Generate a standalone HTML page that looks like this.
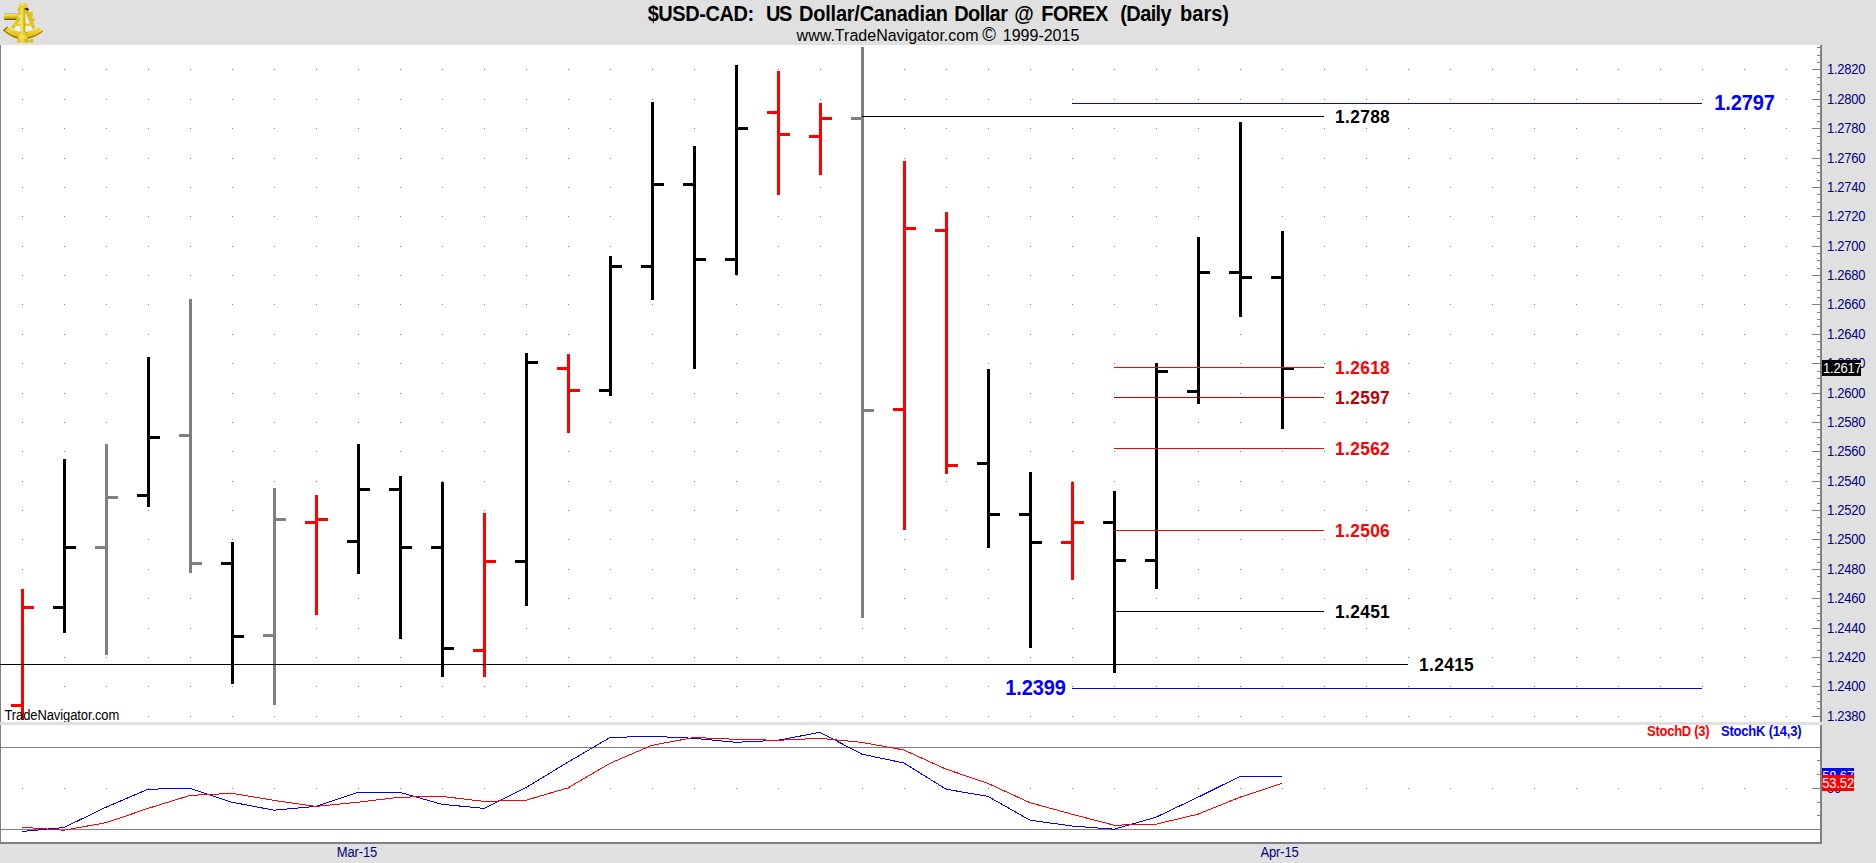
<!DOCTYPE html>
<html lang="en"><head><meta charset="utf-8"><title>$USD-CAD Daily bars</title>
<style>
html,body{margin:0;padding:0;background:#fff;overflow:hidden}
body{width:1876px;height:863px;position:relative}
svg{position:absolute;left:0;top:0;display:block}
text{font-family:"Liberation Sans",Arial,Helvetica,sans-serif;white-space:pre}
</style></head><body>
<svg width="1876" height="863" viewBox="0 0 1876 863">
<rect x="0" y="0" width="1876" height="863" fill="#FFFFFF"/>
<rect x="0" y="0" width="1876" height="45" fill="#E0E0E0"/>
<rect x="1822" y="45" width="54" height="818" fill="#E0E0E0"/>
<rect x="0" y="844" width="1876" height="19" fill="#E0E0E0"/>
<g shape-rendering="crispEdges">
<rect x="0" y="45" width="1" height="799" fill="#808080"/>
<rect x="0" y="722" width="1822" height="3" fill="#E0E0E0"/>
<rect x="1820" y="45" width="2" height="677" fill="#808080"/>
<rect x="1820" y="725" width="2" height="119" fill="#808080"/>
<rect x="0" y="842" width="1822" height="2" fill="#808080"/>
<path d="M22 69h1v1h-1zM64 69h1v1h-1zM106 69h1v1h-1zM148 69h1v1h-1zM190 69h1v1h-1zM232 69h1v1h-1zM274 69h1v1h-1zM316 69h1v1h-1zM358 69h1v1h-1zM400 69h1v1h-1zM442 69h1v1h-1zM484 69h1v1h-1zM526 69h1v1h-1zM568 69h1v1h-1zM610 69h1v1h-1zM652 69h1v1h-1zM694 69h1v1h-1zM736 69h1v1h-1zM778 69h1v1h-1zM820 69h1v1h-1zM862 69h1v1h-1zM904 69h1v1h-1zM946 69h1v1h-1zM988 69h1v1h-1zM1030 69h1v1h-1zM1072 69h1v1h-1zM1114 69h1v1h-1zM1156 69h1v1h-1zM1198 69h1v1h-1zM1240 69h1v1h-1zM1282 69h1v1h-1zM1324 69h1v1h-1zM1366 69h1v1h-1zM1408 69h1v1h-1zM1450 69h1v1h-1zM1492 69h1v1h-1zM1534 69h1v1h-1zM1576 69h1v1h-1zM1618 69h1v1h-1zM1660 69h1v1h-1zM1702 69h1v1h-1zM1744 69h1v1h-1zM1786 69h1v1h-1zM22 99h1v1h-1zM64 99h1v1h-1zM106 99h1v1h-1zM148 99h1v1h-1zM190 99h1v1h-1zM232 99h1v1h-1zM274 99h1v1h-1zM316 99h1v1h-1zM358 99h1v1h-1zM400 99h1v1h-1zM442 99h1v1h-1zM484 99h1v1h-1zM526 99h1v1h-1zM568 99h1v1h-1zM610 99h1v1h-1zM652 99h1v1h-1zM694 99h1v1h-1zM736 99h1v1h-1zM778 99h1v1h-1zM820 99h1v1h-1zM862 99h1v1h-1zM904 99h1v1h-1zM946 99h1v1h-1zM988 99h1v1h-1zM1030 99h1v1h-1zM1072 99h1v1h-1zM1114 99h1v1h-1zM1156 99h1v1h-1zM1198 99h1v1h-1zM1240 99h1v1h-1zM1282 99h1v1h-1zM1324 99h1v1h-1zM1366 99h1v1h-1zM1408 99h1v1h-1zM1450 99h1v1h-1zM1492 99h1v1h-1zM1534 99h1v1h-1zM1576 99h1v1h-1zM1618 99h1v1h-1zM1660 99h1v1h-1zM1702 99h1v1h-1zM1744 99h1v1h-1zM1786 99h1v1h-1zM22 128h1v1h-1zM64 128h1v1h-1zM106 128h1v1h-1zM148 128h1v1h-1zM190 128h1v1h-1zM232 128h1v1h-1zM274 128h1v1h-1zM316 128h1v1h-1zM358 128h1v1h-1zM400 128h1v1h-1zM442 128h1v1h-1zM484 128h1v1h-1zM526 128h1v1h-1zM568 128h1v1h-1zM610 128h1v1h-1zM652 128h1v1h-1zM694 128h1v1h-1zM736 128h1v1h-1zM778 128h1v1h-1zM820 128h1v1h-1zM862 128h1v1h-1zM904 128h1v1h-1zM946 128h1v1h-1zM988 128h1v1h-1zM1030 128h1v1h-1zM1072 128h1v1h-1zM1114 128h1v1h-1zM1156 128h1v1h-1zM1198 128h1v1h-1zM1240 128h1v1h-1zM1282 128h1v1h-1zM1324 128h1v1h-1zM1366 128h1v1h-1zM1408 128h1v1h-1zM1450 128h1v1h-1zM1492 128h1v1h-1zM1534 128h1v1h-1zM1576 128h1v1h-1zM1618 128h1v1h-1zM1660 128h1v1h-1zM1702 128h1v1h-1zM1744 128h1v1h-1zM1786 128h1v1h-1zM22 158h1v1h-1zM64 158h1v1h-1zM106 158h1v1h-1zM148 158h1v1h-1zM190 158h1v1h-1zM232 158h1v1h-1zM274 158h1v1h-1zM316 158h1v1h-1zM358 158h1v1h-1zM400 158h1v1h-1zM442 158h1v1h-1zM484 158h1v1h-1zM526 158h1v1h-1zM568 158h1v1h-1zM610 158h1v1h-1zM652 158h1v1h-1zM694 158h1v1h-1zM736 158h1v1h-1zM778 158h1v1h-1zM820 158h1v1h-1zM862 158h1v1h-1zM904 158h1v1h-1zM946 158h1v1h-1zM988 158h1v1h-1zM1030 158h1v1h-1zM1072 158h1v1h-1zM1114 158h1v1h-1zM1156 158h1v1h-1zM1198 158h1v1h-1zM1240 158h1v1h-1zM1282 158h1v1h-1zM1324 158h1v1h-1zM1366 158h1v1h-1zM1408 158h1v1h-1zM1450 158h1v1h-1zM1492 158h1v1h-1zM1534 158h1v1h-1zM1576 158h1v1h-1zM1618 158h1v1h-1zM1660 158h1v1h-1zM1702 158h1v1h-1zM1744 158h1v1h-1zM1786 158h1v1h-1zM22 187h1v1h-1zM64 187h1v1h-1zM106 187h1v1h-1zM148 187h1v1h-1zM190 187h1v1h-1zM232 187h1v1h-1zM274 187h1v1h-1zM316 187h1v1h-1zM358 187h1v1h-1zM400 187h1v1h-1zM442 187h1v1h-1zM484 187h1v1h-1zM526 187h1v1h-1zM568 187h1v1h-1zM610 187h1v1h-1zM652 187h1v1h-1zM694 187h1v1h-1zM736 187h1v1h-1zM778 187h1v1h-1zM820 187h1v1h-1zM862 187h1v1h-1zM904 187h1v1h-1zM946 187h1v1h-1zM988 187h1v1h-1zM1030 187h1v1h-1zM1072 187h1v1h-1zM1114 187h1v1h-1zM1156 187h1v1h-1zM1198 187h1v1h-1zM1240 187h1v1h-1zM1282 187h1v1h-1zM1324 187h1v1h-1zM1366 187h1v1h-1zM1408 187h1v1h-1zM1450 187h1v1h-1zM1492 187h1v1h-1zM1534 187h1v1h-1zM1576 187h1v1h-1zM1618 187h1v1h-1zM1660 187h1v1h-1zM1702 187h1v1h-1zM1744 187h1v1h-1zM1786 187h1v1h-1zM22 216h1v1h-1zM64 216h1v1h-1zM106 216h1v1h-1zM148 216h1v1h-1zM190 216h1v1h-1zM232 216h1v1h-1zM274 216h1v1h-1zM316 216h1v1h-1zM358 216h1v1h-1zM400 216h1v1h-1zM442 216h1v1h-1zM484 216h1v1h-1zM526 216h1v1h-1zM568 216h1v1h-1zM610 216h1v1h-1zM652 216h1v1h-1zM694 216h1v1h-1zM736 216h1v1h-1zM778 216h1v1h-1zM820 216h1v1h-1zM862 216h1v1h-1zM904 216h1v1h-1zM946 216h1v1h-1zM988 216h1v1h-1zM1030 216h1v1h-1zM1072 216h1v1h-1zM1114 216h1v1h-1zM1156 216h1v1h-1zM1198 216h1v1h-1zM1240 216h1v1h-1zM1282 216h1v1h-1zM1324 216h1v1h-1zM1366 216h1v1h-1zM1408 216h1v1h-1zM1450 216h1v1h-1zM1492 216h1v1h-1zM1534 216h1v1h-1zM1576 216h1v1h-1zM1618 216h1v1h-1zM1660 216h1v1h-1zM1702 216h1v1h-1zM1744 216h1v1h-1zM1786 216h1v1h-1zM22 246h1v1h-1zM64 246h1v1h-1zM106 246h1v1h-1zM148 246h1v1h-1zM190 246h1v1h-1zM232 246h1v1h-1zM274 246h1v1h-1zM316 246h1v1h-1zM358 246h1v1h-1zM400 246h1v1h-1zM442 246h1v1h-1zM484 246h1v1h-1zM526 246h1v1h-1zM568 246h1v1h-1zM610 246h1v1h-1zM652 246h1v1h-1zM694 246h1v1h-1zM736 246h1v1h-1zM778 246h1v1h-1zM820 246h1v1h-1zM862 246h1v1h-1zM904 246h1v1h-1zM946 246h1v1h-1zM988 246h1v1h-1zM1030 246h1v1h-1zM1072 246h1v1h-1zM1114 246h1v1h-1zM1156 246h1v1h-1zM1198 246h1v1h-1zM1240 246h1v1h-1zM1282 246h1v1h-1zM1324 246h1v1h-1zM1366 246h1v1h-1zM1408 246h1v1h-1zM1450 246h1v1h-1zM1492 246h1v1h-1zM1534 246h1v1h-1zM1576 246h1v1h-1zM1618 246h1v1h-1zM1660 246h1v1h-1zM1702 246h1v1h-1zM1744 246h1v1h-1zM1786 246h1v1h-1zM22 275h1v1h-1zM64 275h1v1h-1zM106 275h1v1h-1zM148 275h1v1h-1zM190 275h1v1h-1zM232 275h1v1h-1zM274 275h1v1h-1zM316 275h1v1h-1zM358 275h1v1h-1zM400 275h1v1h-1zM442 275h1v1h-1zM484 275h1v1h-1zM526 275h1v1h-1zM568 275h1v1h-1zM610 275h1v1h-1zM652 275h1v1h-1zM694 275h1v1h-1zM736 275h1v1h-1zM778 275h1v1h-1zM820 275h1v1h-1zM862 275h1v1h-1zM904 275h1v1h-1zM946 275h1v1h-1zM988 275h1v1h-1zM1030 275h1v1h-1zM1072 275h1v1h-1zM1114 275h1v1h-1zM1156 275h1v1h-1zM1198 275h1v1h-1zM1240 275h1v1h-1zM1282 275h1v1h-1zM1324 275h1v1h-1zM1366 275h1v1h-1zM1408 275h1v1h-1zM1450 275h1v1h-1zM1492 275h1v1h-1zM1534 275h1v1h-1zM1576 275h1v1h-1zM1618 275h1v1h-1zM1660 275h1v1h-1zM1702 275h1v1h-1zM1744 275h1v1h-1zM1786 275h1v1h-1zM22 304h1v1h-1zM64 304h1v1h-1zM106 304h1v1h-1zM148 304h1v1h-1zM190 304h1v1h-1zM232 304h1v1h-1zM274 304h1v1h-1zM316 304h1v1h-1zM358 304h1v1h-1zM400 304h1v1h-1zM442 304h1v1h-1zM484 304h1v1h-1zM526 304h1v1h-1zM568 304h1v1h-1zM610 304h1v1h-1zM652 304h1v1h-1zM694 304h1v1h-1zM736 304h1v1h-1zM778 304h1v1h-1zM820 304h1v1h-1zM862 304h1v1h-1zM904 304h1v1h-1zM946 304h1v1h-1zM988 304h1v1h-1zM1030 304h1v1h-1zM1072 304h1v1h-1zM1114 304h1v1h-1zM1156 304h1v1h-1zM1198 304h1v1h-1zM1240 304h1v1h-1zM1282 304h1v1h-1zM1324 304h1v1h-1zM1366 304h1v1h-1zM1408 304h1v1h-1zM1450 304h1v1h-1zM1492 304h1v1h-1zM1534 304h1v1h-1zM1576 304h1v1h-1zM1618 304h1v1h-1zM1660 304h1v1h-1zM1702 304h1v1h-1zM1744 304h1v1h-1zM1786 304h1v1h-1zM22 334h1v1h-1zM64 334h1v1h-1zM106 334h1v1h-1zM148 334h1v1h-1zM190 334h1v1h-1zM232 334h1v1h-1zM274 334h1v1h-1zM316 334h1v1h-1zM358 334h1v1h-1zM400 334h1v1h-1zM442 334h1v1h-1zM484 334h1v1h-1zM526 334h1v1h-1zM568 334h1v1h-1zM610 334h1v1h-1zM652 334h1v1h-1zM694 334h1v1h-1zM736 334h1v1h-1zM778 334h1v1h-1zM820 334h1v1h-1zM862 334h1v1h-1zM904 334h1v1h-1zM946 334h1v1h-1zM988 334h1v1h-1zM1030 334h1v1h-1zM1072 334h1v1h-1zM1114 334h1v1h-1zM1156 334h1v1h-1zM1198 334h1v1h-1zM1240 334h1v1h-1zM1282 334h1v1h-1zM1324 334h1v1h-1zM1366 334h1v1h-1zM1408 334h1v1h-1zM1450 334h1v1h-1zM1492 334h1v1h-1zM1534 334h1v1h-1zM1576 334h1v1h-1zM1618 334h1v1h-1zM1660 334h1v1h-1zM1702 334h1v1h-1zM1744 334h1v1h-1zM1786 334h1v1h-1zM22 363h1v1h-1zM64 363h1v1h-1zM106 363h1v1h-1zM148 363h1v1h-1zM190 363h1v1h-1zM232 363h1v1h-1zM274 363h1v1h-1zM316 363h1v1h-1zM358 363h1v1h-1zM400 363h1v1h-1zM442 363h1v1h-1zM484 363h1v1h-1zM526 363h1v1h-1zM568 363h1v1h-1zM610 363h1v1h-1zM652 363h1v1h-1zM694 363h1v1h-1zM736 363h1v1h-1zM778 363h1v1h-1zM820 363h1v1h-1zM862 363h1v1h-1zM904 363h1v1h-1zM946 363h1v1h-1zM988 363h1v1h-1zM1030 363h1v1h-1zM1072 363h1v1h-1zM1114 363h1v1h-1zM1156 363h1v1h-1zM1198 363h1v1h-1zM1240 363h1v1h-1zM1282 363h1v1h-1zM1324 363h1v1h-1zM1366 363h1v1h-1zM1408 363h1v1h-1zM1450 363h1v1h-1zM1492 363h1v1h-1zM1534 363h1v1h-1zM1576 363h1v1h-1zM1618 363h1v1h-1zM1660 363h1v1h-1zM1702 363h1v1h-1zM1744 363h1v1h-1zM1786 363h1v1h-1zM22 393h1v1h-1zM64 393h1v1h-1zM106 393h1v1h-1zM148 393h1v1h-1zM190 393h1v1h-1zM232 393h1v1h-1zM274 393h1v1h-1zM316 393h1v1h-1zM358 393h1v1h-1zM400 393h1v1h-1zM442 393h1v1h-1zM484 393h1v1h-1zM526 393h1v1h-1zM568 393h1v1h-1zM610 393h1v1h-1zM652 393h1v1h-1zM694 393h1v1h-1zM736 393h1v1h-1zM778 393h1v1h-1zM820 393h1v1h-1zM862 393h1v1h-1zM904 393h1v1h-1zM946 393h1v1h-1zM988 393h1v1h-1zM1030 393h1v1h-1zM1072 393h1v1h-1zM1114 393h1v1h-1zM1156 393h1v1h-1zM1198 393h1v1h-1zM1240 393h1v1h-1zM1282 393h1v1h-1zM1324 393h1v1h-1zM1366 393h1v1h-1zM1408 393h1v1h-1zM1450 393h1v1h-1zM1492 393h1v1h-1zM1534 393h1v1h-1zM1576 393h1v1h-1zM1618 393h1v1h-1zM1660 393h1v1h-1zM1702 393h1v1h-1zM1744 393h1v1h-1zM1786 393h1v1h-1zM22 422h1v1h-1zM64 422h1v1h-1zM106 422h1v1h-1zM148 422h1v1h-1zM190 422h1v1h-1zM232 422h1v1h-1zM274 422h1v1h-1zM316 422h1v1h-1zM358 422h1v1h-1zM400 422h1v1h-1zM442 422h1v1h-1zM484 422h1v1h-1zM526 422h1v1h-1zM568 422h1v1h-1zM610 422h1v1h-1zM652 422h1v1h-1zM694 422h1v1h-1zM736 422h1v1h-1zM778 422h1v1h-1zM820 422h1v1h-1zM862 422h1v1h-1zM904 422h1v1h-1zM946 422h1v1h-1zM988 422h1v1h-1zM1030 422h1v1h-1zM1072 422h1v1h-1zM1114 422h1v1h-1zM1156 422h1v1h-1zM1198 422h1v1h-1zM1240 422h1v1h-1zM1282 422h1v1h-1zM1324 422h1v1h-1zM1366 422h1v1h-1zM1408 422h1v1h-1zM1450 422h1v1h-1zM1492 422h1v1h-1zM1534 422h1v1h-1zM1576 422h1v1h-1zM1618 422h1v1h-1zM1660 422h1v1h-1zM1702 422h1v1h-1zM1744 422h1v1h-1zM1786 422h1v1h-1zM22 451h1v1h-1zM64 451h1v1h-1zM106 451h1v1h-1zM148 451h1v1h-1zM190 451h1v1h-1zM232 451h1v1h-1zM274 451h1v1h-1zM316 451h1v1h-1zM358 451h1v1h-1zM400 451h1v1h-1zM442 451h1v1h-1zM484 451h1v1h-1zM526 451h1v1h-1zM568 451h1v1h-1zM610 451h1v1h-1zM652 451h1v1h-1zM694 451h1v1h-1zM736 451h1v1h-1zM778 451h1v1h-1zM820 451h1v1h-1zM862 451h1v1h-1zM904 451h1v1h-1zM946 451h1v1h-1zM988 451h1v1h-1zM1030 451h1v1h-1zM1072 451h1v1h-1zM1114 451h1v1h-1zM1156 451h1v1h-1zM1198 451h1v1h-1zM1240 451h1v1h-1zM1282 451h1v1h-1zM1324 451h1v1h-1zM1366 451h1v1h-1zM1408 451h1v1h-1zM1450 451h1v1h-1zM1492 451h1v1h-1zM1534 451h1v1h-1zM1576 451h1v1h-1zM1618 451h1v1h-1zM1660 451h1v1h-1zM1702 451h1v1h-1zM1744 451h1v1h-1zM1786 451h1v1h-1zM22 481h1v1h-1zM64 481h1v1h-1zM106 481h1v1h-1zM148 481h1v1h-1zM190 481h1v1h-1zM232 481h1v1h-1zM274 481h1v1h-1zM316 481h1v1h-1zM358 481h1v1h-1zM400 481h1v1h-1zM442 481h1v1h-1zM484 481h1v1h-1zM526 481h1v1h-1zM568 481h1v1h-1zM610 481h1v1h-1zM652 481h1v1h-1zM694 481h1v1h-1zM736 481h1v1h-1zM778 481h1v1h-1zM820 481h1v1h-1zM862 481h1v1h-1zM904 481h1v1h-1zM946 481h1v1h-1zM988 481h1v1h-1zM1030 481h1v1h-1zM1072 481h1v1h-1zM1114 481h1v1h-1zM1156 481h1v1h-1zM1198 481h1v1h-1zM1240 481h1v1h-1zM1282 481h1v1h-1zM1324 481h1v1h-1zM1366 481h1v1h-1zM1408 481h1v1h-1zM1450 481h1v1h-1zM1492 481h1v1h-1zM1534 481h1v1h-1zM1576 481h1v1h-1zM1618 481h1v1h-1zM1660 481h1v1h-1zM1702 481h1v1h-1zM1744 481h1v1h-1zM1786 481h1v1h-1zM22 510h1v1h-1zM64 510h1v1h-1zM106 510h1v1h-1zM148 510h1v1h-1zM190 510h1v1h-1zM232 510h1v1h-1zM274 510h1v1h-1zM316 510h1v1h-1zM358 510h1v1h-1zM400 510h1v1h-1zM442 510h1v1h-1zM484 510h1v1h-1zM526 510h1v1h-1zM568 510h1v1h-1zM610 510h1v1h-1zM652 510h1v1h-1zM694 510h1v1h-1zM736 510h1v1h-1zM778 510h1v1h-1zM820 510h1v1h-1zM862 510h1v1h-1zM904 510h1v1h-1zM946 510h1v1h-1zM988 510h1v1h-1zM1030 510h1v1h-1zM1072 510h1v1h-1zM1114 510h1v1h-1zM1156 510h1v1h-1zM1198 510h1v1h-1zM1240 510h1v1h-1zM1282 510h1v1h-1zM1324 510h1v1h-1zM1366 510h1v1h-1zM1408 510h1v1h-1zM1450 510h1v1h-1zM1492 510h1v1h-1zM1534 510h1v1h-1zM1576 510h1v1h-1zM1618 510h1v1h-1zM1660 510h1v1h-1zM1702 510h1v1h-1zM1744 510h1v1h-1zM1786 510h1v1h-1zM22 539h1v1h-1zM64 539h1v1h-1zM106 539h1v1h-1zM148 539h1v1h-1zM190 539h1v1h-1zM232 539h1v1h-1zM274 539h1v1h-1zM316 539h1v1h-1zM358 539h1v1h-1zM400 539h1v1h-1zM442 539h1v1h-1zM484 539h1v1h-1zM526 539h1v1h-1zM568 539h1v1h-1zM610 539h1v1h-1zM652 539h1v1h-1zM694 539h1v1h-1zM736 539h1v1h-1zM778 539h1v1h-1zM820 539h1v1h-1zM862 539h1v1h-1zM904 539h1v1h-1zM946 539h1v1h-1zM988 539h1v1h-1zM1030 539h1v1h-1zM1072 539h1v1h-1zM1114 539h1v1h-1zM1156 539h1v1h-1zM1198 539h1v1h-1zM1240 539h1v1h-1zM1282 539h1v1h-1zM1324 539h1v1h-1zM1366 539h1v1h-1zM1408 539h1v1h-1zM1450 539h1v1h-1zM1492 539h1v1h-1zM1534 539h1v1h-1zM1576 539h1v1h-1zM1618 539h1v1h-1zM1660 539h1v1h-1zM1702 539h1v1h-1zM1744 539h1v1h-1zM1786 539h1v1h-1zM22 569h1v1h-1zM64 569h1v1h-1zM106 569h1v1h-1zM148 569h1v1h-1zM190 569h1v1h-1zM232 569h1v1h-1zM274 569h1v1h-1zM316 569h1v1h-1zM358 569h1v1h-1zM400 569h1v1h-1zM442 569h1v1h-1zM484 569h1v1h-1zM526 569h1v1h-1zM568 569h1v1h-1zM610 569h1v1h-1zM652 569h1v1h-1zM694 569h1v1h-1zM736 569h1v1h-1zM778 569h1v1h-1zM820 569h1v1h-1zM862 569h1v1h-1zM904 569h1v1h-1zM946 569h1v1h-1zM988 569h1v1h-1zM1030 569h1v1h-1zM1072 569h1v1h-1zM1114 569h1v1h-1zM1156 569h1v1h-1zM1198 569h1v1h-1zM1240 569h1v1h-1zM1282 569h1v1h-1zM1324 569h1v1h-1zM1366 569h1v1h-1zM1408 569h1v1h-1zM1450 569h1v1h-1zM1492 569h1v1h-1zM1534 569h1v1h-1zM1576 569h1v1h-1zM1618 569h1v1h-1zM1660 569h1v1h-1zM1702 569h1v1h-1zM1744 569h1v1h-1zM1786 569h1v1h-1zM22 598h1v1h-1zM64 598h1v1h-1zM106 598h1v1h-1zM148 598h1v1h-1zM190 598h1v1h-1zM232 598h1v1h-1zM274 598h1v1h-1zM316 598h1v1h-1zM358 598h1v1h-1zM400 598h1v1h-1zM442 598h1v1h-1zM484 598h1v1h-1zM526 598h1v1h-1zM568 598h1v1h-1zM610 598h1v1h-1zM652 598h1v1h-1zM694 598h1v1h-1zM736 598h1v1h-1zM778 598h1v1h-1zM820 598h1v1h-1zM862 598h1v1h-1zM904 598h1v1h-1zM946 598h1v1h-1zM988 598h1v1h-1zM1030 598h1v1h-1zM1072 598h1v1h-1zM1114 598h1v1h-1zM1156 598h1v1h-1zM1198 598h1v1h-1zM1240 598h1v1h-1zM1282 598h1v1h-1zM1324 598h1v1h-1zM1366 598h1v1h-1zM1408 598h1v1h-1zM1450 598h1v1h-1zM1492 598h1v1h-1zM1534 598h1v1h-1zM1576 598h1v1h-1zM1618 598h1v1h-1zM1660 598h1v1h-1zM1702 598h1v1h-1zM1744 598h1v1h-1zM1786 598h1v1h-1zM22 628h1v1h-1zM64 628h1v1h-1zM106 628h1v1h-1zM148 628h1v1h-1zM190 628h1v1h-1zM232 628h1v1h-1zM274 628h1v1h-1zM316 628h1v1h-1zM358 628h1v1h-1zM400 628h1v1h-1zM442 628h1v1h-1zM484 628h1v1h-1zM526 628h1v1h-1zM568 628h1v1h-1zM610 628h1v1h-1zM652 628h1v1h-1zM694 628h1v1h-1zM736 628h1v1h-1zM778 628h1v1h-1zM820 628h1v1h-1zM862 628h1v1h-1zM904 628h1v1h-1zM946 628h1v1h-1zM988 628h1v1h-1zM1030 628h1v1h-1zM1072 628h1v1h-1zM1114 628h1v1h-1zM1156 628h1v1h-1zM1198 628h1v1h-1zM1240 628h1v1h-1zM1282 628h1v1h-1zM1324 628h1v1h-1zM1366 628h1v1h-1zM1408 628h1v1h-1zM1450 628h1v1h-1zM1492 628h1v1h-1zM1534 628h1v1h-1zM1576 628h1v1h-1zM1618 628h1v1h-1zM1660 628h1v1h-1zM1702 628h1v1h-1zM1744 628h1v1h-1zM1786 628h1v1h-1zM22 657h1v1h-1zM64 657h1v1h-1zM106 657h1v1h-1zM148 657h1v1h-1zM190 657h1v1h-1zM232 657h1v1h-1zM274 657h1v1h-1zM316 657h1v1h-1zM358 657h1v1h-1zM400 657h1v1h-1zM442 657h1v1h-1zM484 657h1v1h-1zM526 657h1v1h-1zM568 657h1v1h-1zM610 657h1v1h-1zM652 657h1v1h-1zM694 657h1v1h-1zM736 657h1v1h-1zM778 657h1v1h-1zM820 657h1v1h-1zM862 657h1v1h-1zM904 657h1v1h-1zM946 657h1v1h-1zM988 657h1v1h-1zM1030 657h1v1h-1zM1072 657h1v1h-1zM1114 657h1v1h-1zM1156 657h1v1h-1zM1198 657h1v1h-1zM1240 657h1v1h-1zM1282 657h1v1h-1zM1324 657h1v1h-1zM1366 657h1v1h-1zM1408 657h1v1h-1zM1450 657h1v1h-1zM1492 657h1v1h-1zM1534 657h1v1h-1zM1576 657h1v1h-1zM1618 657h1v1h-1zM1660 657h1v1h-1zM1702 657h1v1h-1zM1744 657h1v1h-1zM1786 657h1v1h-1zM22 686h1v1h-1zM64 686h1v1h-1zM106 686h1v1h-1zM148 686h1v1h-1zM190 686h1v1h-1zM232 686h1v1h-1zM274 686h1v1h-1zM316 686h1v1h-1zM358 686h1v1h-1zM400 686h1v1h-1zM442 686h1v1h-1zM484 686h1v1h-1zM526 686h1v1h-1zM568 686h1v1h-1zM610 686h1v1h-1zM652 686h1v1h-1zM694 686h1v1h-1zM736 686h1v1h-1zM778 686h1v1h-1zM820 686h1v1h-1zM862 686h1v1h-1zM904 686h1v1h-1zM946 686h1v1h-1zM988 686h1v1h-1zM1030 686h1v1h-1zM1072 686h1v1h-1zM1114 686h1v1h-1zM1156 686h1v1h-1zM1198 686h1v1h-1zM1240 686h1v1h-1zM1282 686h1v1h-1zM1324 686h1v1h-1zM1366 686h1v1h-1zM1408 686h1v1h-1zM1450 686h1v1h-1zM1492 686h1v1h-1zM1534 686h1v1h-1zM1576 686h1v1h-1zM1618 686h1v1h-1zM1660 686h1v1h-1zM1702 686h1v1h-1zM1744 686h1v1h-1zM1786 686h1v1h-1zM22 716h1v1h-1zM64 716h1v1h-1zM106 716h1v1h-1zM148 716h1v1h-1zM190 716h1v1h-1zM232 716h1v1h-1zM274 716h1v1h-1zM316 716h1v1h-1zM358 716h1v1h-1zM400 716h1v1h-1zM442 716h1v1h-1zM484 716h1v1h-1zM526 716h1v1h-1zM568 716h1v1h-1zM610 716h1v1h-1zM652 716h1v1h-1zM694 716h1v1h-1zM736 716h1v1h-1zM778 716h1v1h-1zM820 716h1v1h-1zM862 716h1v1h-1zM904 716h1v1h-1zM946 716h1v1h-1zM988 716h1v1h-1zM1030 716h1v1h-1zM1072 716h1v1h-1zM1114 716h1v1h-1zM1156 716h1v1h-1zM1198 716h1v1h-1zM1240 716h1v1h-1zM1282 716h1v1h-1zM1324 716h1v1h-1zM1366 716h1v1h-1zM1408 716h1v1h-1zM1450 716h1v1h-1zM1492 716h1v1h-1zM1534 716h1v1h-1zM1576 716h1v1h-1zM1618 716h1v1h-1zM1660 716h1v1h-1zM1702 716h1v1h-1zM1744 716h1v1h-1zM1786 716h1v1h-1zM22 788h1v1h-1zM64 788h1v1h-1zM106 788h1v1h-1zM148 788h1v1h-1zM190 788h1v1h-1zM232 788h1v1h-1zM274 788h1v1h-1zM316 788h1v1h-1zM358 788h1v1h-1zM400 788h1v1h-1zM442 788h1v1h-1zM484 788h1v1h-1zM526 788h1v1h-1zM568 788h1v1h-1zM610 788h1v1h-1zM652 788h1v1h-1zM694 788h1v1h-1zM736 788h1v1h-1zM778 788h1v1h-1zM820 788h1v1h-1zM862 788h1v1h-1zM904 788h1v1h-1zM946 788h1v1h-1zM988 788h1v1h-1zM1030 788h1v1h-1zM1072 788h1v1h-1zM1114 788h1v1h-1zM1156 788h1v1h-1zM1198 788h1v1h-1zM1240 788h1v1h-1zM1282 788h1v1h-1zM1324 788h1v1h-1zM1366 788h1v1h-1zM1408 788h1v1h-1zM1450 788h1v1h-1zM1492 788h1v1h-1zM1534 788h1v1h-1zM1576 788h1v1h-1zM1618 788h1v1h-1zM1660 788h1v1h-1zM1702 788h1v1h-1zM1744 788h1v1h-1zM1786 788h1v1h-1z" fill="#7f7f7f"/>
<path d="M1817 47h3v1h-3zM1817 55h3v1h-3zM1817 62h3v1h-3zM1812 69h8v1h-8zM1817 77h3v1h-3zM1817 84h3v1h-3zM1817 91h3v1h-3zM1812 99h8v1h-8zM1817 106h3v1h-3zM1817 113h3v1h-3zM1817 121h3v1h-3zM1812 128h8v1h-8zM1817 136h3v1h-3zM1817 143h3v1h-3zM1817 150h3v1h-3zM1812 158h8v1h-8zM1817 165h3v1h-3zM1817 172h3v1h-3zM1817 180h3v1h-3zM1812 187h8v1h-8zM1817 194h3v1h-3zM1817 202h3v1h-3zM1817 209h3v1h-3zM1812 216h8v1h-8zM1817 224h3v1h-3zM1817 231h3v1h-3zM1817 238h3v1h-3zM1812 246h8v1h-8zM1817 253h3v1h-3zM1817 260h3v1h-3zM1817 268h3v1h-3zM1812 275h8v1h-8zM1817 282h3v1h-3zM1817 290h3v1h-3zM1817 297h3v1h-3zM1812 304h8v1h-8zM1817 312h3v1h-3zM1817 319h3v1h-3zM1817 326h3v1h-3zM1812 334h8v1h-8zM1817 341h3v1h-3zM1817 349h3v1h-3zM1817 356h3v1h-3zM1812 363h8v1h-8zM1817 371h3v1h-3zM1817 378h3v1h-3zM1817 385h3v1h-3zM1812 393h8v1h-8zM1817 400h3v1h-3zM1817 407h3v1h-3zM1817 415h3v1h-3zM1812 422h8v1h-8zM1817 429h3v1h-3zM1817 437h3v1h-3zM1817 444h3v1h-3zM1812 451h8v1h-8zM1817 459h3v1h-3zM1817 466h3v1h-3zM1817 473h3v1h-3zM1812 481h8v1h-8zM1817 488h3v1h-3zM1817 495h3v1h-3zM1817 503h3v1h-3zM1812 510h8v1h-8zM1817 517h3v1h-3zM1817 525h3v1h-3zM1817 532h3v1h-3zM1812 539h8v1h-8zM1817 547h3v1h-3zM1817 554h3v1h-3zM1817 562h3v1h-3zM1812 569h8v1h-8zM1817 576h3v1h-3zM1817 584h3v1h-3zM1817 591h3v1h-3zM1812 598h8v1h-8zM1817 606h3v1h-3zM1817 613h3v1h-3zM1817 620h3v1h-3zM1812 628h8v1h-8zM1817 635h3v1h-3zM1817 642h3v1h-3zM1817 650h3v1h-3zM1812 657h8v1h-8zM1817 664h3v1h-3zM1817 672h3v1h-3zM1817 679h3v1h-3zM1812 686h8v1h-8zM1817 694h3v1h-3zM1817 701h3v1h-3zM1817 708h3v1h-3zM1812 716h8v1h-8zM1817 760h3v1h-3zM1817 774h3v1h-3zM1812 788h8v1h-8zM1817 802h3v1h-3zM1817 815h3v1h-3z" fill="#808080"/>
<rect x="1" y="747" width="1819" height="1" fill="#808080"/>
<rect x="1" y="829" width="1819" height="1" fill="#808080"/>
<path d="M21 589h3v131h-3zM11 704h10v3h-10zM24 606h10v3h-10zM315 495h3v120h-3zM305 521h10v3h-10zM318 518h10v3h-10zM483 513h3v164h-3zM473 649h10v3h-10zM486 560h10v3h-10zM567 354h3v79h-3zM557 367h10v3h-10zM570 389h10v3h-10zM777 71h3v124h-3zM767 111h10v3h-10zM780 133h10v3h-10zM819 103h3v72h-3zM809 135h10v3h-10zM822 117h10v3h-10zM903 161h3v369h-3zM893 408h10v3h-10zM906 227h10v3h-10zM945 212h3v262h-3zM935 229h10v3h-10zM948 464h10v3h-10zM1071 482h3v98h-3zM1061 541h10v3h-10zM1074 521h10v3h-10z" fill="#FF0000"/>
<path d="M63 459h3v174h-3zM53 606h10v3h-10zM66 546h10v3h-10zM147 357h3v150h-3zM137 494h10v3h-10zM150 436h10v3h-10zM231 542h3v142h-3zM221 562h10v3h-10zM234 635h10v3h-10zM357 444h3v130h-3zM347 540h10v3h-10zM360 488h10v3h-10zM399 476h3v163h-3zM389 488h10v3h-10zM402 546h10v3h-10zM441 482h3v195h-3zM431 546h10v3h-10zM444 647h10v3h-10zM525 353h3v253h-3zM515 560h10v3h-10zM528 361h10v3h-10zM609 256h3v140h-3zM599 389h10v3h-10zM612 265h10v3h-10zM651 102h3v198h-3zM641 265h10v3h-10zM654 183h10v3h-10zM693 146h3v223h-3zM683 183h10v3h-10zM696 258h10v3h-10zM735 65h3v210h-3zM725 258h10v3h-10zM738 127h10v3h-10zM987 369h3v179h-3zM977 462h10v3h-10zM990 513h10v3h-10zM1029 472h3v176h-3zM1019 513h10v3h-10zM1032 541h10v3h-10zM1113 491h3v182h-3zM1103 521h10v3h-10zM1116 559h10v3h-10zM1155 363h3v226h-3zM1145 559h10v3h-10zM1158 370h10v3h-10zM1197 237h3v167h-3zM1187 390h10v3h-10zM1200 271h10v3h-10zM1239 122h3v195h-3zM1229 271h10v3h-10zM1242 276h10v3h-10zM1281 231h3v198h-3zM1271 276h10v3h-10zM1284 367h10v3h-10z" fill="#000000"/>
<path d="M105 444h3v211h-3zM95 546h10v3h-10zM108 496h10v3h-10zM189 299h3v274h-3zM179 434h10v3h-10zM192 562h10v3h-10zM273 488h3v217h-3zM263 634h10v3h-10zM276 518h10v3h-10zM861 47h3v571h-3zM851 117h10v3h-10zM864 409h10v3h-10z" fill="#808080"/>
<rect x="0" y="664" width="1408" height="1" fill="#000000"/>
<rect x="862" y="116" width="462" height="1" fill="#000000"/>
<rect x="1114" y="611" width="210" height="1" fill="#000000"/>
<rect x="1072" y="103" width="630" height="1" fill="#0000FF"/>
<rect x="1072" y="688" width="630" height="1" fill="#0000FF"/>
<rect x="1114" y="367" width="210" height="1" fill="#FF0000"/>
<rect x="1114" y="397" width="210" height="1" fill="#C80000"/>
<rect x="1114" y="448" width="210" height="1" fill="#FF0000"/>
<rect x="1114" y="530" width="210" height="1" fill="#FF0000"/>
<polyline points="22,831.5 64,827.5 106,807.2 148,789.2 190,788.4 232,802.2 274,810.2 316,806.4 358,792.4 400,792.4 442,804.3 484,808.4 526,787.6 568,762.1 610,737.5 652,736.3 694,738.3 736,742.3 778,740.3 820,732.3 862,754.2 904,763.0 946,789.2 988,796.4 1030,820.2 1072,826 1114,829.2 1156,817.2 1198,797.2 1240,776.4 1282,776.4" fill="none" stroke="#0000FF" stroke-width="1"/>
<polyline points="22,827.2 64,830.2 106,822.7 148,808.4 190,795.4 232,793.4 274,800.4 316,806.4 358,802.2 400,797.2 442,796.4 484,801.4 526,800.2 568,787.9 610,763.3 652,745.3 694,737.5 736,739.3 778,740.3 820,738.3 862,742.4 904,750.0 946,769.1 988,783.4 1030,802.7 1072,814.2 1114,825.2 1156,824.2 1198,814.2 1240,797.2 1282,783.4" fill="none" stroke="#FF0000" stroke-width="1"/>
<rect x="1822" y="360" width="39" height="16" fill="#000000"/>
</g>
<text transform="translate(0 21) scale(1 1.087)" font-size="20" font-weight="bold" fill="#000"><tspan x="647.70" letter-spacing="-0.443">$USD-CAD:</tspan><tspan x="757.27" letter-spacing="-1.240">  US</tspan><tspan x="793.77" letter-spacing="-0.231"> Dollar/Canadian</tspan><tspan x="949.22" letter-spacing="-0.580"> Dollar</tspan><tspan x="1008.64" letter-spacing="0.000"> @</tspan><tspan x="1036.21" letter-spacing="-0.465"> FOREX</tspan><tspan x="1110.40" letter-spacing="-0.608">  (Daily</tspan><tspan x="1174.56" letter-spacing="-0.012"> bars)</tspan></text>
<text transform="translate(796.6 41) scale(1 1.087)" font-size="16" fill="#000" textLength="182" lengthAdjust="spacing">www.TradeNavigator.com</text>
<text transform="translate(982.2 41.4) scale(1 1.05)" font-size="18.6" fill="#000">©</text>
<text transform="translate(1002.8 41) scale(1 1.087)" font-size="16" fill="#000">1999-2015</text>
<text transform="translate(1827.1 74) scale(1 1.115)" font-size="13" fill="#000080" letter-spacing="-0.28">1.2820</text>
<text transform="translate(1827.1 104) scale(1 1.115)" font-size="13" fill="#000080" letter-spacing="-0.28">1.2800</text>
<text transform="translate(1827.1 133) scale(1 1.115)" font-size="13" fill="#000080" letter-spacing="-0.28">1.2780</text>
<text transform="translate(1827.1 163) scale(1 1.115)" font-size="13" fill="#000080" letter-spacing="-0.28">1.2760</text>
<text transform="translate(1827.1 192) scale(1 1.115)" font-size="13" fill="#000080" letter-spacing="-0.28">1.2740</text>
<text transform="translate(1827.1 221) scale(1 1.115)" font-size="13" fill="#000080" letter-spacing="-0.28">1.2720</text>
<text transform="translate(1827.1 251) scale(1 1.115)" font-size="13" fill="#000080" letter-spacing="-0.28">1.2700</text>
<text transform="translate(1827.1 280) scale(1 1.115)" font-size="13" fill="#000080" letter-spacing="-0.28">1.2680</text>
<text transform="translate(1827.1 309) scale(1 1.115)" font-size="13" fill="#000080" letter-spacing="-0.28">1.2660</text>
<text transform="translate(1827.1 339) scale(1 1.115)" font-size="13" fill="#000080" letter-spacing="-0.28">1.2640</text>
<text transform="translate(1827.1 368) scale(1 1.115)" font-size="13" fill="#000080" letter-spacing="-0.28">1.2620</text>
<text transform="translate(1827.1 398) scale(1 1.115)" font-size="13" fill="#000080" letter-spacing="-0.28">1.2600</text>
<text transform="translate(1827.1 427) scale(1 1.115)" font-size="13" fill="#000080" letter-spacing="-0.28">1.2580</text>
<text transform="translate(1827.1 456) scale(1 1.115)" font-size="13" fill="#000080" letter-spacing="-0.28">1.2560</text>
<text transform="translate(1827.1 486) scale(1 1.115)" font-size="13" fill="#000080" letter-spacing="-0.28">1.2540</text>
<text transform="translate(1827.1 515) scale(1 1.115)" font-size="13" fill="#000080" letter-spacing="-0.28">1.2520</text>
<text transform="translate(1827.1 544) scale(1 1.115)" font-size="13" fill="#000080" letter-spacing="-0.28">1.2500</text>
<text transform="translate(1827.1 574) scale(1 1.115)" font-size="13" fill="#000080" letter-spacing="-0.28">1.2480</text>
<text transform="translate(1827.1 603) scale(1 1.115)" font-size="13" fill="#000080" letter-spacing="-0.28">1.2460</text>
<text transform="translate(1827.1 633) scale(1 1.115)" font-size="13" fill="#000080" letter-spacing="-0.28">1.2440</text>
<text transform="translate(1827.1 662) scale(1 1.115)" font-size="13" fill="#000080" letter-spacing="-0.28">1.2420</text>
<text transform="translate(1827.1 691) scale(1 1.115)" font-size="13" fill="#000080" letter-spacing="-0.28">1.2400</text>
<text transform="translate(1827.1 721) scale(1 1.115)" font-size="13" fill="#000080" letter-spacing="-0.28">1.2380</text>
<text transform="translate(1827.1 793) scale(1 1.115)" font-size="13" fill="#000080" letter-spacing="-0.28">50</text>
<g shape-rendering="crispEdges">
<rect x="1822" y="360" width="39" height="16" fill="#000000"/>
<rect x="1822" y="768" width="32" height="16" fill="#0000FF"/>
</g>
<text transform="translate(1822.2 781) scale(1 1.115)" font-size="13" fill="#fff" letter-spacing="-0.13">58.67</text>
<g shape-rendering="crispEdges">
<rect x="1822" y="775" width="32" height="16" fill="#FF0000"/>
</g>
<text transform="translate(1822.2 788) scale(1 1.115)" font-size="13" fill="#fff" letter-spacing="-0.13">53.52</text>
<text transform="translate(1823.0 373) scale(1 1.115)" font-size="13" fill="#fff" letter-spacing="-0.2">1.2617</text>
<text transform="translate(1335 123) scale(1 1.087)" font-size="17.33" fill="#000" font-weight="bold" letter-spacing="0.36">1.2788</text>
<text transform="translate(1335 374) scale(1 1.087)" font-size="17.33" fill="#FF0000" font-weight="bold" letter-spacing="0.36">1.2618</text>
<text transform="translate(1335 404) scale(1 1.087)" font-size="17.33" fill="#C00000" font-weight="bold" letter-spacing="0.36">1.2597</text>
<text transform="translate(1335 455) scale(1 1.087)" font-size="17.33" fill="#FF0000" font-weight="bold" letter-spacing="0.36">1.2562</text>
<text transform="translate(1335 537) scale(1 1.087)" font-size="17.33" fill="#FF0000" font-weight="bold" letter-spacing="0.36">1.2506</text>
<text transform="translate(1335 618) scale(1 1.087)" font-size="17.33" fill="#000" font-weight="bold" letter-spacing="0.36">1.2451</text>
<text transform="translate(1419 671) scale(1 1.087)" font-size="17.33" fill="#000" font-weight="bold" letter-spacing="0.36">1.2415</text>
<text transform="translate(1714.2 110) scale(1 1.087)" font-size="20" fill="#0000FF" font-weight="bold" letter-spacing="-0.1">1.2797</text>
<text transform="translate(1005.2 695) scale(1 1.087)" font-size="20" fill="#0000FF" font-weight="bold" letter-spacing="-0.1">1.2399</text>
<text transform="translate(1647 736) scale(1 1.115)" font-size="13" fill="#FF0000" font-weight="bold" letter-spacing="-0.25">StochD (3)</text>
<text transform="translate(1721 736) scale(1 1.115)" font-size="13" fill="#0000FF" font-weight="bold" letter-spacing="-0.2">StochK (14,3)</text>
<clipPath id="cpw"><rect x="1" y="700" width="200" height="22"/></clipPath>
<g clip-path="url(#cpw)">
<text transform="translate(4.5 720) scale(1 1.115)" font-size="13" fill="#000" letter-spacing="-0.1">TradeNavigator.com</text>
</g>
<text transform="translate(336.8 857) scale(1 1.115)" font-size="13" fill="#000080" letter-spacing="-0.13">Mar-15</text>
<text transform="translate(1260.4 857) scale(1 1.115)" font-size="13" fill="#000080" letter-spacing="-0.13">Apr-15</text>
<g id="logo">
<defs>
<linearGradient id="gTel" x1="0" y1="0" x2="0" y2="1"><stop offset="0" stop-color="#F4E460"/><stop offset="0.35" stop-color="#EDD22A"/><stop offset="0.7" stop-color="#C9A610"/><stop offset="0.86" stop-color="#8A7004"/><stop offset="1" stop-color="#3E3200"/></linearGradient>
<linearGradient id="gPil" x1="0" y1="0" x2="1" y2="0"><stop offset="0" stop-color="#E9D440"/><stop offset="0.3" stop-color="#F6EA80"/><stop offset="0.55" stop-color="#E8CA20"/><stop offset="1" stop-color="#C9A40E"/></linearGradient>
<linearGradient id="gArc" x1="0" y1="0" x2="0" y2="1"><stop offset="0" stop-color="#F3DD45"/><stop offset="0.6" stop-color="#E6C61C"/><stop offset="1" stop-color="#C9A40E"/></linearGradient>
<linearGradient id="gBase" x1="0" y1="0" x2="1" y2="0"><stop offset="0" stop-color="#D9B916"/><stop offset="0.45" stop-color="#F2DC40"/><stop offset="1" stop-color="#C8A510"/></linearGradient>
</defs>
<path d="M21 13L13.2 27.8L16 30.4L23 31.8L30 30.4L33.6 27.6L26.6 13z" fill="#F1F1EE"/>
<path d="M4.4 13h12.8v0.8h-12.8z" fill="#5BB6DA"/>
<rect x="4.2" y="13.7" width="14.6" height="6.3" rx="0.7" fill="url(#gTel)"/>
<path d="M16.2 13.6h2.6v6.6h-2.6z" fill="#E6CA24" opacity="0.55"/>
<path d="M18.2 17.4L21.6 18.6L13.8 29L10.8 27.6z" fill="#E3C41E"/>
<path d="M24.8 10.8L27.8 9.6L35.2 27.6L32.4 29z" fill="#DDBC18"/>
<path d="M13.8 23.4h19.2v2.7h-19.2z" fill="#E8CC28"/>
<path d="M28.2 14.3c0-1.5 1.1-2.4 2.4-2.4s2.5 0.9 2.5 2.4c0 1.2-0.6 1.8-0.8 2.6l0.4 2 1.8-0.8 0.8 1.6-2 1.4 0.5 2.4h-3l-0.6-3.2-1.4-3.2c-0.4-0.8-0.6-1.6-0.6-2.8z" fill="#E2C31C"/>
<path d="M3.1 30.5L7.2 26.5Q14 31.6 23 32.3Q32 31.8 38.9 27.3L43.1 31.5Q34 38.6 23 39.6Q12 38.6 3.1 30.5z" fill="url(#gArc)"/>
<path d="M3.1 30.5Q12 38.6 23 39.6Q34 38.6 43.1 31.5L42.3 30.7Q33.5 37 23 38Q12.5 37 4 29.7z" fill="#9E7E04"/>
<path d="M3.1 30.5L7.2 26.5L7.9 27.1L4.2 31z" fill="#6A5406"/>
<path d="M17.6 9.6c0-1.6 1.2-2.8 2.8-2.8l0.6 8.2c-2 0.2-3.2-0.8-3-2.6l0.6-1.4z" fill="#DDBE1A"/>
<rect x="20.4" y="7" width="4.9" height="27" fill="url(#gPil)"/>
<path d="M24.4 6.4c2.4 0.2 4.2 1.6 4.6 3.4l-0.8 1-3.8-1.6z" fill="#3A2C00"/>
<path d="M19.2 7.4c-0.6-2.6 1.2-4.6 4-4.6s4.8 1.8 4.2 4.4c-1 1-2.4 1.4-4.2 1.4s-3-0.4-4-1.2z" fill="#E9CE28"/>
<ellipse cx="22.9" cy="4.6" rx="2.2" ry="1.1" fill="#F6E870"/>
<path d="M19.2 31.9h8.2l0.7 10.9h-11z" fill="url(#gBase)"/>
<path d="M19 34.5h8.4l0.3 4.4h-9z" fill="#F5E468" opacity="0.55"/>
<path d="M28.4 40.4l3.6-1.6c1 0 1.5 1 1.5 2s-0.5 2-1.5 2l-3.6-0.8z" fill="#DDBC18"/>
</g>
</svg>
</body></html>
